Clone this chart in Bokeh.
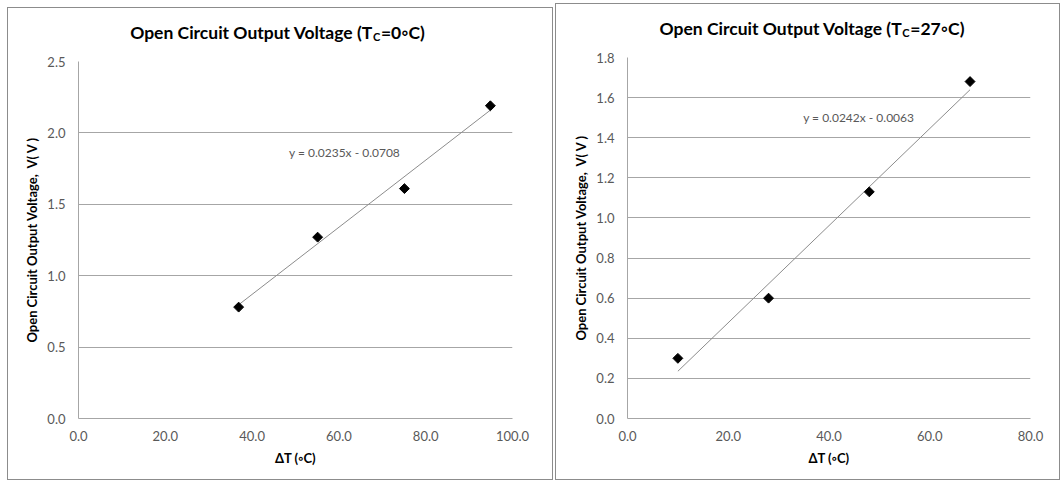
import math
from bokeh.plotting import figure
from bokeh.layouts import row, column
from bokeh.models import Label, SingleIntervalTicker, NumeralTickFormatter, Range1d, Spacer
from bokeh.embed import file_html
from bokeh.resources import INLINE

# ---- data ----
dt_0 = [36.9, 55.1, 75.1, 94.9]
v_0 = [0.78, 1.27, 1.61, 2.19]
slope_0, icept_0 = 0.0235, -0.0708
eq_0 = "y = 0.0235x - 0.0708"

dt_27 = [10.0, 28.0, 48.0, 68.0]
v_27 = [0.30, 0.60, 1.13, 1.68]
slope_27, icept_27 = 0.0242, -0.0063
eq_27 = "y = 0.0242x - 0.0063"

FONT = "Lato"
GRID = "#a6a6a6"
TICKC = "#595959"
NB = "\u00a0"


def make_title(width, height, tc_text, x0, yc):
    t = figure(width=width, height=height, output_backend="svg", toolbar_location=None,
               x_range=Range1d(0, width), y_range=Range1d(0, height),
               x_axis_type=None, y_axis_type=None,
               min_border_left=0, min_border_right=0, min_border_top=0, min_border_bottom=0)
    t.outline_line_color = None
    t.grid.grid_line_color = None
    common = dict(x=x0, y=height - yc, text_font=FONT, text_font_style="bold",
                  text_baseline="middle", text_color="#000000")
    t.add_layout(Label(text="Open Circuit Output Voltage (T", text_align="right",
                       text_font_size="17.5px", **common))
    t.add_layout(Label(text="C", text_align="left", text_font_size="11px", y_offset=-4, **common))
    t.add_layout(Label(text=tc_text, text_align="left", text_font_size="17.5px", x_offset=8, **common))
    return t


def make_chart(xs, ys, slope, icept, eq, xmax, ymax, yint,
               width, height, bl, br, bt, bb, eq_x, eq_y):
    p = figure(width=width, height=height, output_backend="svg", toolbar_location=None,
               x_range=Range1d(0, xmax), y_range=Range1d(0, ymax),
               min_border_left=bl, min_border_right=br, min_border_top=bt, min_border_bottom=bb)
    p.outline_line_color = None
    p.xgrid.grid_line_color = None
    p.ygrid.grid_line_color = GRID
    p.ygrid.grid_line_width = 1
    p.xaxis.ticker = SingleIntervalTicker(interval=20)
    p.yaxis.ticker = SingleIntervalTicker(interval=yint)
    p.xaxis.formatter = NumeralTickFormatter(format="0.0")
    p.yaxis.formatter = NumeralTickFormatter(format="0.0")
    for ax in (p.xaxis, p.yaxis):
        ax.major_tick_line_color = None
        ax.minor_tick_line_color = None
        ax.major_tick_out = 0
        ax.major_tick_in = 0
        ax.minor_tick_out = 0
        ax.minor_tick_in = 0
        ax.axis_line_color = GRID
        ax.major_label_text_font = FONT
        ax.major_label_text_font_size = "13px"
        ax.major_label_text_color = TICKC
        ax.axis_label_text_font = FONT
        ax.axis_label_text_font_size = "13px"
        ax.axis_label_text_font_style = "bold"
        ax.axis_label_text_color = "#000000"
    p.xaxis.major_label_standoff = 12
    p.yaxis.major_label_standoff = 13
    p.xaxis.axis_label = "ΔT (◦C)"
    p.yaxis.axis_label = f"Open Circuit Output Voltage,{NB}{NB}V({NB}V{NB})"
    p.xaxis.axis_label_standoff = 6
    p.yaxis.axis_label_standoff = 4

    x0, x1 = min(xs), max(xs)
    p.line([x0, x1], [slope * x0 + icept, slope * x1 + icept], line_color="#8c8c8c", line_width=1)
    p.scatter(xs, ys, marker="square", size=7, angle=math.pi / 4,
              fill_color="black", line_color="black")
    p.add_layout(Label(x=eq_x, y=eq_y, text=eq, text_font=FONT, text_font_size="12px",
                       text_color=TICKC, text_align="center", text_baseline="middle"))
    return p


BORDER = {"border": "1px solid #8c8c8c"}

t1 = make_title(544, 44, "=0◦C)", 369, 24)
p1 = make_chart(dt_0, v_0, slope_0, icept_0, eq_0, 100, 2.5, 0.5,
                544, 427, 70, 40, 9, 61, 61.3, 1.86)
c1 = column(t1, p1, styles=BORDER)

t2 = make_title(503, 44, "=27◦C)", 343, 24)
p2 = make_chart(dt_27, v_27, slope_27, icept_27, eq_27, 80, 1.8, 0.2,
                503, 431, 71, 29, 9, 61, 45.9, 1.50)
c2 = column(t2, p2, styles=BORDER)

layout = row(Spacer(width=7), column(Spacer(height=7), c1), Spacer(width=2),
             column(Spacer(height=3), c2))
open("out.html", "w").write(file_html(layout, INLINE))
